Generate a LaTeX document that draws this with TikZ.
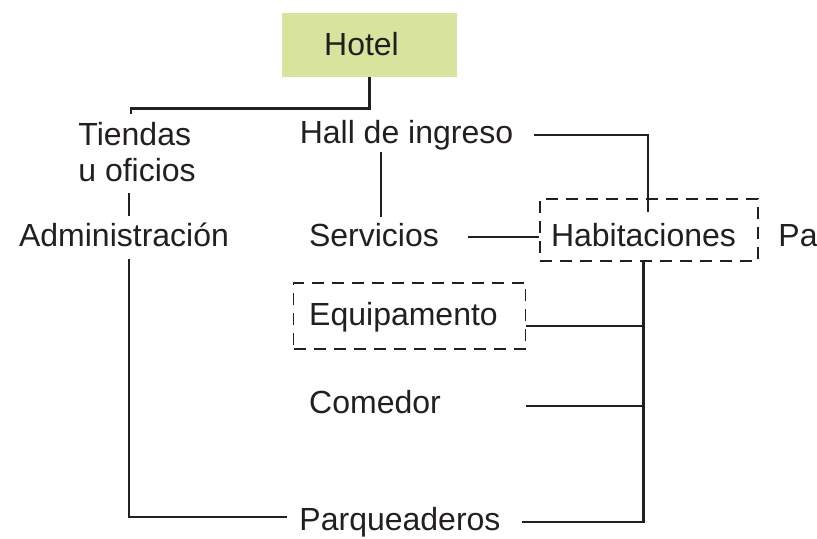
\documentclass[tikz,border=0pt]{standalone}
\usepackage{fontspec}
\setmainfont{Liberation Sans}
\usepackage{tikz}
\usetikzlibrary{positioning}
\definecolor{hotelgreen}{RGB}{216,228,158}
\definecolor{ink}{RGB}{35,31,32}

\begin{document}
\begin{tikzpicture}[
    x=0.5pt, y=-0.5pt,
    lbl/.style={font=\fontsize{16}{18}\selectfont, text=ink, inner sep=0pt},
    hbox/.style={lbl, fill=hotelgreen, minimum width=87.5pt, minimum height=32pt, text depth=1.5pt},
    dbox/.style={draw=ink, line width=0.6pt, dash pattern=on 6pt off 4pt},
    ln/.style={draw=ink, line width=1.2pt}
]
    \useasboundingbox (0,0) rectangle (817,538);

    \node[hbox] (hotel) at (369.5,45) {Hotel\kern8pt};
    \node[lbl, align=left, anchor=north west] (tiendas) at (78,122) {Tiendas\\u oficios};
    \node[lbl, anchor=base] (admin) at (124,246) {Administración};
    \node[lbl, anchor=base] (hall) at (406.5,143) {Hall de ingreso};
    \node[lbl, anchor=base] (serv) at (374,246) {Servicios};
    \node[lbl, anchor=base] (habit) at (643.5,246) {Habitaciones};
    \node[lbl, anchor=base west] (pa) at (778,246) {Pa};
    \node[lbl, anchor=base] (equip) at (403.5,325) {Equipamento};
    \node[lbl, anchor=base] (comedor) at (375,413) {Comedor};
    \node[lbl, anchor=base] (parq) at (400,530) {Parqueaderos};

    % dashed frames
    \node[dbox, minimum width=109pt, minimum height=31pt] (habbox) at (649,230) {};
    \node[dbox, minimum width=116pt, minimum height=33pt] (equipbox) at (409.5,316) {};

    \draw[ln] (hotel.south) -- ++(0,31) -| ([xshift=-3pt,yshift=4pt]tiendas.north);
    \draw[ln] ([xshift=2.5pt,yshift=-5.5pt]tiendas.south -| admin.north) -- ([xshift=2.5pt,yshift=2.8pt]admin.north);
    \draw[ln] ([xshift=2.5pt,yshift=-6pt]admin.south) |- ([xshift=-6pt,yshift=2.3pt]parq.west);
    \draw[ln] ([xshift=10.5pt]parq.east) -| ([yshift=-6.5pt]habit.south);
    \draw[ln] ([yshift=-5pt]equipbox.east) -- ([yshift=-5pt]equipbox.east -| habit.south);
    \draw[ln] ([yshift=-2.3pt]comedor.east -| equipbox.east) -- ([yshift=-2.3pt]comedor.east -| habit.south);
    \draw[ln] ([xshift=10pt]hall.east) -| ([xshift=2.25pt,yshift=5pt]habit.north);
    \draw[ln] ([xshift=-12.75pt,yshift=-1pt]hall.south) -- ([xshift=3.5pt,yshift=2.8pt]serv.north);
    \draw[ln] ([xshift=14.5pt,yshift=-1.3pt]serv.east) -- ([yshift=-1.3pt]serv.east -| habbox.west);
\end{tikzpicture}
\end{document}
